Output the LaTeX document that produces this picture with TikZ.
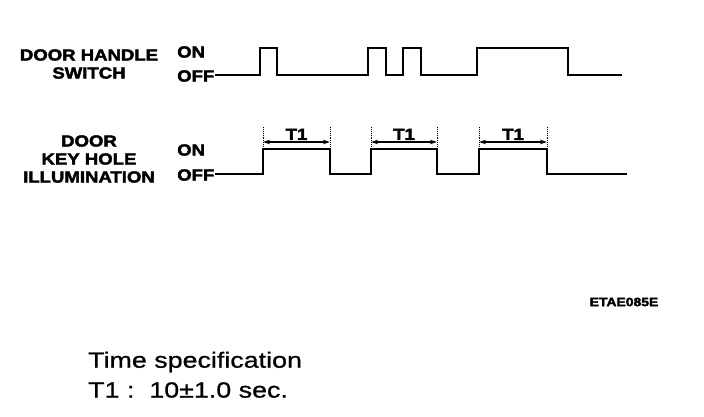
\documentclass[tikz,border=0pt]{standalone}
\usepackage{fontspec}
\newfontfamily\heavyfont{Liberation Sans Bold}[FakeStretch=1.16,FakeBold=2.5]
\newfontfamily\specfont{Liberation Sans}[FakeStretch=1.22,FakeBold=0.8]
\usetikzlibrary{arrows.meta}
\begin{document}
\begin{tikzpicture}[x=1pt, y=-1pt,
    signal/.style={font=\heavyfont\fontsize{16}{18}\selectfont, align=center, inner sep=0pt},
    level/.style={font=\heavyfont\fontsize{16}{18}\selectfont, anchor=west, inner sep=0pt},
    wave/.style={line width=2pt, line join=miter},
    span/.style={{Stealth[length=7pt,width=4.5pt]}-{Stealth[length=7pt,width=4.5pt]}, line width=1.3pt},
    guide/.style={densely dotted, line width=0.9pt},
    spec/.style={font=\specfont\fontsize{22}{26}\selectfont, anchor=west, inner sep=0pt},
]
    \useasboundingbox (0,0) rectangle (704,416);

    % Door handle switch
    \node[signal] (switch) at (89,64) {DOOR HANDLE\\SWITCH};
    \node[level] (onA) at (177,52) {ON};
    \node[level] (offA) at (177,76) {OFF};
    \coordinate (lowA) at (0,75);
    \draw[wave] (offA.east |- lowA) -- (260,75) -- (260,48) -- (277,48) -- (277,75)
        -- (368,75) -- (368,48) -- (386,48) -- (386,75)
        -- (403,75) -- (403,48) -- (421,48) -- (421,75)
        -- (477,75) -- (477,48) -- (568,48) -- (568,75) -- (622,75);

    % Door key hole illumination
    \node[signal] (lamp) at (89,159) {DOOR\\KEY HOLE\\ILLUMINATION};
    \node[level] (onB) at (177,150) {ON};
    \node[level] (offB) at (177,175) {OFF};
    \coordinate (lowB) at (0,174);
    \draw[wave] (offB.east |- lowB) -- (263,174) -- (263,149) -- (330,149) -- (330,174)
        -- (371,174) -- (371,149) -- (437,149) -- (437,174)
        -- (479,174) -- (479,149) -- (547,149) -- (547,174) -- (627,174);

    % T1 spans
    \foreach \a/\b [count=\i] in {263/330, 371/437, 479/547} {
        \coordinate (s\i) at (\a,142);
        \coordinate (e\i) at (\b,142);
        \draw[guide] (\a,127) -- (\a,149);
        \draw[guide] (\b,127) -- (\b,149);
        \draw[span] (s\i) -- node[above=0.5pt, font=\heavyfont\fontsize{16}{18}\selectfont, inner sep=1pt] {T1} (e\i);
    }

    % Figure code
    \node[font=\heavyfont\fontsize{12}{14}\selectfont] (code) at (624,302) {ETAE085E};

    % Specification
    \node[spec] (spec) at (88,362) {Time specification};
    \node[spec] (value) at (88,390) {T1~:~~10±1.0 sec.};
\end{tikzpicture}
\end{document}
